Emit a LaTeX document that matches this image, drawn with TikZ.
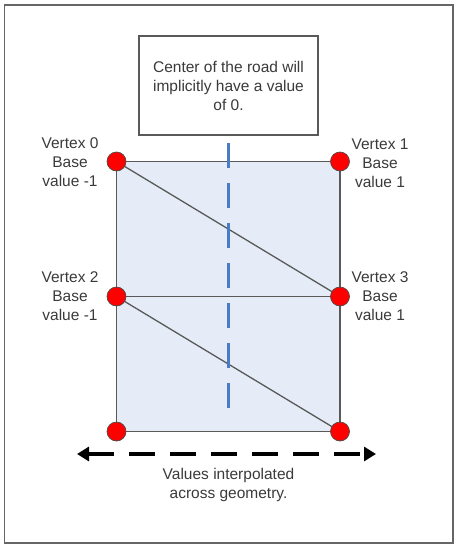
\documentclass[tikz,border=0pt]{standalone}
\usepackage{fontspec}
\setmainfont{Liberation Sans}
\usetikzlibrary{arrows.meta}
\definecolor{txt}{HTML}{3A3A3A}
\definecolor{edge}{HTML}{595959}
\definecolor{fillc}{HTML}{E6ECF7}
\definecolor{road}{HTML}{4A7CC4}
\tikzset{
  vdot/.style={circle, fill=red, draw=black!70, line width=0.7pt, minimum size=19pt, inner sep=0pt},
  lbl/.style={text=txt, font=\fontsize{15.5}{19}\selectfont, align=center},
  geo/.style={draw=edge, line width=1.9pt},
  diag/.style={draw=edge, line width=1.3pt},
}
\begin{document}
\begin{tikzpicture}[x=1pt,y=-1pt]
\useasboundingbox (0,0) rectangle (459,547);
\draw[draw=black!60, line width=1.8pt] (4.5,5) rectangle (453,543);
% geometry
\coordinate (p0) at (116.5,161.5);
\coordinate (p1) at (340,161.5);
\coordinate (p2) at (116.5,296.5);
\coordinate (p3) at (340,296.5);
\coordinate (p4) at (116.5,431.5);
\coordinate (p5) at (340,431.5);
\fill[fillc] (p0) rectangle (p5);
\draw[geo] (p0) rectangle (p5);
\draw[geo] (p2) -- (p3);
\draw[diag] (p0) -- (p3);
\draw[diag] (p2) -- (p5);
% road center
\coordinate (rt) at (228.5,143);
\coordinate (rb) at (228.5,412);
\draw[road, line width=3.2pt, dash pattern=on 25pt off 15pt] (rt) -- (rb);
% box
\node[draw=edge, line width=1.5pt, fill=white, minimum width=179pt, minimum height=99pt, lbl] (box) at (228.5,85.5) {Center of the road will\\implicitly have a value\\of 0.};
% vertices
\node[vdot] (v0) at (p0) {};
\node[vdot] (v1) at (p1) {};
\node[vdot] (v2) at (p2) {};
\node[vdot] (v3) at (p3) {};
\node[vdot] (v4) at (p4) {};
\node[vdot] (v5) at (p5) {};
\node[lbl] (l0) at (70,162) {Vertex 0\\Base\\value -1};
\node[lbl] (l1) at (380,163) {Vertex 1\\Base\\value 1};
\node[lbl] (l2) at (70,296) {Vertex 2\\Base\\value -1};
\node[lbl] (l3) at (380,296) {Vertex 3\\Base\\value 1};
% arrow
\coordinate (al) at (77,454);
\coordinate (ar) at (376,454);
\draw[black, line width=3.2pt, dash pattern=on 26pt off 15pt, {Triangle[length=12pt,width=14pt]}-{Triangle[length=12pt,width=14pt]}] (al) -- (ar);
\node[lbl] (cap) at (228.5,485) {Values interpolated\\across geometry.};
\end{tikzpicture}
\end{document}
